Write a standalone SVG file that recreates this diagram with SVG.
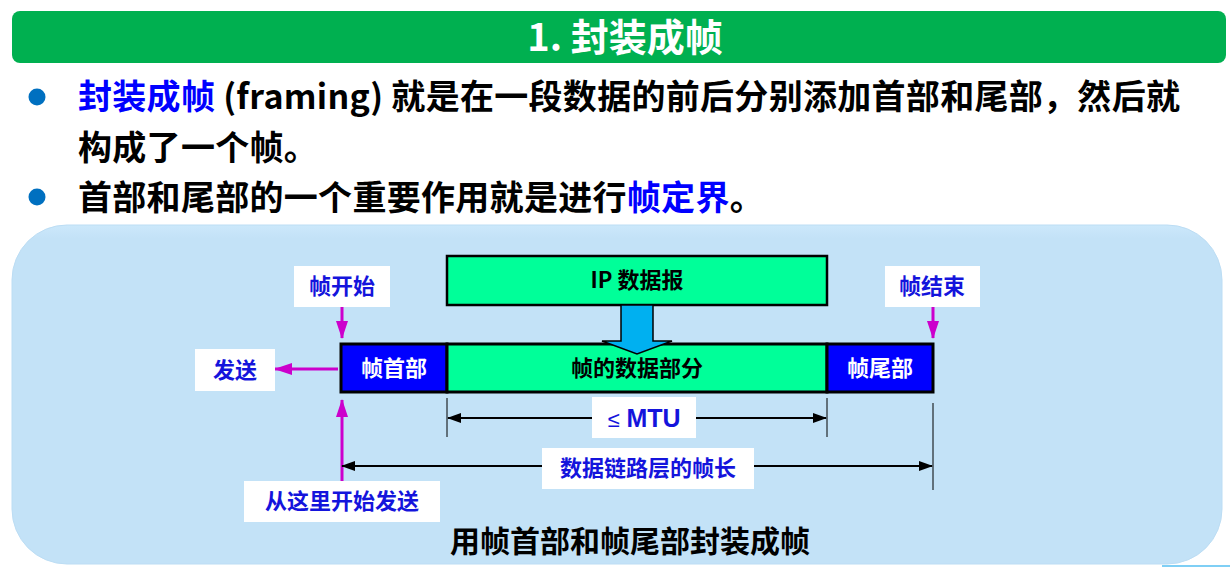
<svg xmlns="http://www.w3.org/2000/svg" width="1230" height="569" viewBox="0 0 1230 569">
<style>
.cjk{font-family:"Noto Sans CJK SC","Liberation Sans",sans-serif;font-weight:bold}
.lbl{font-size:22px;text-anchor:middle}
.body{font-size:34px;letter-spacing:0.3px}
.blue{fill:#1414DC}
.wbox{fill:#FFFFFF}
.mag{stroke:#CC00CC;stroke-width:3;fill:none}
.blk{stroke:#000;stroke-width:2;fill:none}
.tick{stroke:#000;stroke-width:1;fill:none}
</style>
<defs>
<marker id="mArr" viewBox="0 0 18 12" refX="17" refY="6" markerWidth="18" markerHeight="12" markerUnits="userSpaceOnUse" orient="auto">
<path d="M0,0 L18,6 L0,12 Z" fill="#CC00CC"/>
</marker>
<marker id="bArr" viewBox="0 0 14 10" refX="13" refY="5" markerWidth="14" markerHeight="10" markerUnits="userSpaceOnUse" orient="auto-start-reverse">
<path d="M0,0 L14,5 L0,10 Z" fill="#000"/>
</marker>
<linearGradient id="pg" x1="0" y1="0" x2="0" y2="1">
<stop offset="0" stop-color="#CCE8FB"/>
<stop offset="0.04" stop-color="#C3E2F7"/>
<stop offset="1" stop-color="#C3E2F7"/>
</linearGradient>
</defs>
<rect width="1230" height="569" fill="#FFFFFF"/>
<g id="title">
<rect x="12" y="11" width="1214" height="52" rx="8" fill="#00B050"/>
<text x="625" y="51" class="cjk" font-size="38" fill="#FFFFFF" text-anchor="middle">1. 封装成帧</text>
</g>
<g id="bullets">
<circle cx="37" cy="97" r="8.5" fill="#0070C0"/>
<circle cx="37" cy="197" r="8.5" fill="#0070C0"/>
<text x="78" y="109" class="cjk body" fill="#000"><tspan fill="#0000FF">封装成帧</tspan> (framing) 就是在一段数据的前后分别添加首部和尾部，然后就</text>
<text x="78" y="160" class="cjk body" fill="#000">构成了一个帧。</text>
<text x="78" y="210" class="cjk body" fill="#000">首部和尾部的一个重要作用就是进行<tspan fill="#0000FF">帧定界</tspan>。</text>
</g>
<g id="panel">
<rect x="12" y="225" width="1210" height="339" rx="55" fill="url(#pg)" stroke="#BCDDF4" stroke-width="1"/>
<line x1="1162" y1="566" x2="1230" y2="566" stroke="#7FCFF5" stroke-width="2"/>
</g>
<g id="ip-datagram">
<rect x="447" y="256" width="380" height="49" fill="#00FF99" stroke="#000" stroke-width="2.5"/>
<text x="637" y="288" class="cjk lbl" fill="#000">IP 数据报</text>
</g>
<g id="frame-header">
<rect x="341" y="344" width="106" height="48" fill="#0000FF" stroke="#000" stroke-width="3"/>
<text x="394" y="376" class="cjk lbl" fill="#FFFFFF">帧首部</text>
</g>
<g id="frame-data">
<rect x="447" y="344" width="380" height="48" fill="#00FF99" stroke="#000" stroke-width="3"/>
<text x="637" y="376" class="cjk lbl" fill="#000">帧的数据部分</text>
</g>
<g id="frame-trailer">
<rect x="827" y="344" width="106" height="48" fill="#0000FF" stroke="#000" stroke-width="3"/>
<text x="880" y="376" class="cjk lbl" fill="#FFFFFF">帧尾部</text>
</g>
<g id="connectors">
<polygon points="621,305 653,305 653,341 672,341 637,354 602,341 621,341" fill="#00B0F0" stroke="#000" stroke-width="1.5"/>
<line x1="342" y1="307" x2="342" y2="338" class="mag" marker-end="url(#mArr)"/>
<line x1="933" y1="307" x2="933" y2="338" class="mag" marker-end="url(#mArr)"/>
<line x1="338" y1="369" x2="275" y2="369" class="mag" marker-end="url(#mArr)"/>
<line x1="342" y1="481" x2="342" y2="400" class="mag" marker-end="url(#mArr)"/>
<line x1="447" y1="398" x2="447" y2="437" class="tick"/>
<line x1="827" y1="398" x2="827" y2="437" class="tick"/>
<line x1="933" y1="403" x2="933" y2="490" class="tick"/>
<line x1="448" y1="418" x2="826" y2="418" class="blk" marker-start="url(#bArr)" marker-end="url(#bArr)"/>
<line x1="342" y1="466" x2="932" y2="466" class="blk" marker-start="url(#bArr)" marker-end="url(#bArr)"/>
</g>
<g id="label-frame-start">
<rect x="294" y="266" width="96" height="41" class="wbox"/>
<text x="342" y="294" class="cjk lbl blue">帧开始</text>
</g>
<g id="label-frame-end">
<rect x="885" y="266" width="95" height="41" class="wbox"/>
<text x="932" y="294" class="cjk lbl blue">帧结束</text>
</g>
<g id="label-send">
<rect x="195" y="349" width="80" height="42" class="wbox"/>
<text x="235" y="378" class="cjk lbl blue">发送</text>
</g>
<g id="label-mtu">
<rect x="592" y="397" width="104" height="41" class="wbox"/>
<text x="644" y="427" class="blue" text-anchor="middle" style="font-family:'Liberation Sans','Noto Sans CJK SC',sans-serif"><tspan font-weight="normal" font-size="22">≤</tspan><tspan font-weight="bold" font-size="25"> MTU</tspan></text>
</g>
<g id="label-frame-length">
<rect x="542" y="448" width="212" height="41" class="wbox"/>
<text x="648" y="476" class="cjk lbl blue">数据链路层的帧长</text>
</g>
<g id="label-start-send">
<rect x="244" y="481" width="196" height="41" class="wbox"/>
<text x="342" y="509" class="cjk lbl blue">从这里开始发送</text>
</g>
<g id="caption">
<text x="630" y="552" class="cjk" font-size="30" fill="#000" text-anchor="middle">用帧首部和帧尾部封装成帧</text>
</g>
</svg>
